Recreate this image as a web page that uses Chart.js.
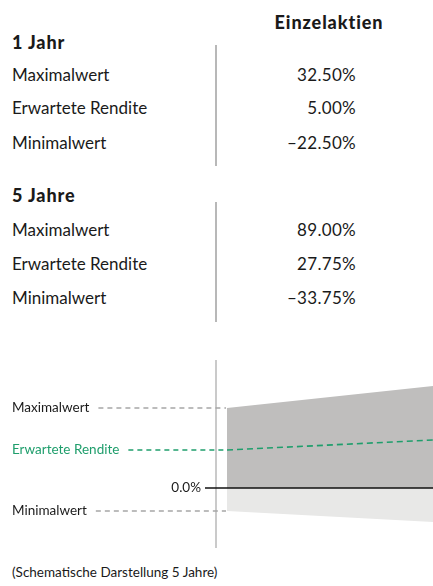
<!DOCTYPE html>
<html>
<head>
<meta charset="utf-8">
<script src="https://cdn.jsdelivr.net/npm/chart.js@4"></script>
<style>
  body { margin: 0; width: 433px; height: 586px; background: #fff; font-family: "Lato", sans-serif; color: #1a1a1a; overflow: hidden; }
  .t { position: absolute; height: 20px; line-height: 20px; white-space: nowrap; font-size: 17px; }
  .h { font-weight: 900; font-size: 18px; letter-spacing: 0.9px; }
  .v { text-align: right; width: 140px; left: 216px; letter-spacing: 0.3px; }
  .sep { position: absolute; left: 215px; width: 1.5px; background: #b8b8b8; }
  #wrap { position: absolute; left: 0; top: 360px; width: 433px; height: 200px; }
  .cap { position: absolute; left: 12px; top: 564px; font-size: 13.5px; white-space: nowrap; }
</style>
</head>
<body>
<div id="table"></div>
<div id="wrap"><canvas id="chart"></canvas></div>
<div class="cap">(Schematische Darstellung 5 Jahre)</div>
<script>
const column = 'Einzelaktien';
const rowLabels = ['Maximalwert', 'Erwartete Rendite', 'Minimalwert'];
const periods = ['1 Jahr', '5 Jahre'];
const values1y = ['32.50%', '5.00%', '\u201322.50%'];
const values5y = ['89.00%', '27.75%', '\u201333.75%'];

// schematic chart, relative heights
const years = [0, 5];
const schemaMax = [80, 102];
const schemaExp = [38, 48];
const schemaMin = [-23, -34];
const zeroLabel = '0.0%';

function addText(text, cls, top, left) {
  const d = document.createElement('div');
  d.className = 't ' + cls;
  d.textContent = text;
  d.style.top = (top - 10) + 'px';
  if (left !== undefined) d.style.left = left + 'px';
  document.getElementById('table').appendChild(d);
}
function addSep(top, bottom) {
  const d = document.createElement('div');
  d.className = 'sep';
  d.style.top = top + 'px';
  d.style.height = (bottom - top) + 'px';
  document.getElementById('table').appendChild(d);
}

const head = document.createElement('div');
head.className = 't h';
head.textContent = column;
head.style.top = '12px';
head.style.left = '229px';
head.style.width = '200px';
head.style.textAlign = 'center';
document.getElementById('table').appendChild(head);

const blocks = [
  { title: periods[0], vals: values1y, y: 42, rows: [75, 108, 143], sep: [45, 166] },
  { title: periods[1], vals: values5y, y: 195, rows: [230, 264, 298], sep: [202, 322] }
];
blocks.forEach(b => {
  addText(b.title, 'h', b.y, 12);
  rowLabels.forEach((l, i) => {
    addText(l, '', b.rows[i], 12);
    addText(b.vals[i], 'v', b.rows[i]);
  });
  addSep(b.sep[0], b.sep[1]);
});

const green = '#1f9e6c';

const sidePlugin = {
  id: 'side',
  beforeDatasetsDraw: (chart) => {
    const ctx = chart.ctx;
    ctx.save();
    // vertical divider
    ctx.strokeStyle = '#b8b8b8';
    ctx.lineWidth = 1.5;
    ctx.beginPath();
    ctx.moveTo(216, 0);
    ctx.lineTo(216, 188);
    ctx.stroke();
    ctx.restore();
  },
  afterDatasetsDraw: (chart) => {
    const ctx = chart.ctx;
    const y = chart.scales.y;
    const left = chart.chartArea.left;
    ctx.save();
    ctx.font = '13.5px Lato';
    ctx.textBaseline = 'middle';
    const items = [
      { text: rowLabels[0], v: schemaMax[0], color: '#1a1a1a', line: '#a6a6a6' },
      { text: rowLabels[1], v: schemaExp[0], color: green, line: green },
      { text: rowLabels[2], v: schemaMin[0], color: '#1a1a1a', line: '#a6a6a6' }
    ];
    items.forEach(it => {
      const py = y.getPixelForValue(it.v);
      ctx.fillStyle = it.color;
      ctx.textAlign = 'left';
      ctx.fillText(it.text, 12, py);
      const w = ctx.measureText(it.text).width;
      ctx.strokeStyle = it.line;
      ctx.lineWidth = 1.3;
      ctx.setLineDash([5, 4]);
      ctx.beginPath();
      ctx.moveTo(12 + w + 9, py);
      ctx.lineTo(left - 1, py);
      ctx.stroke();
    });
    // zero line
    const zy = y.getPixelForValue(0);
    ctx.setLineDash([]);
    ctx.strokeStyle = '#111';
    ctx.lineWidth = 1.5;
    ctx.beginPath();
    ctx.moveTo(205, zy);
    ctx.lineTo(chart.chartArea.right, zy);
    ctx.stroke();
    ctx.fillStyle = '#1a1a1a';
    ctx.textAlign = 'right';
    ctx.fillText(zeroLabel, 201, zy);
    ctx.restore();
  }
};

new Chart(document.getElementById('chart'), {
  type: 'line',
  data: {
    datasets: [
      {
        label: rowLabels[1],
        data: years.map((x, i) => ({ x: x, y: schemaExp[i] })),
        borderColor: green,
        borderWidth: 1.6,
        borderDash: [6, 4],
        pointRadius: 0,
        fill: false,
        order: 0
      },
      {
        label: rowLabels[0],
        data: years.map((x, i) => ({ x: x, y: schemaMax[i] })),
        borderWidth: 0,
        borderColor: 'rgba(0,0,0,0)',
        backgroundColor: '#bfbebd',
        pointRadius: 0,
        fill: 'origin',
        order: 1
      },
      {
        label: rowLabels[2],
        data: years.map((x, i) => ({ x: x, y: schemaMin[i] })),
        borderWidth: 0,
        borderColor: 'rgba(0,0,0,0)',
        backgroundColor: '#e8e8e7',
        pointRadius: 0,
        fill: 'origin',
        order: 2
      }
    ]
  },
  options: {
    responsive: true,
    maintainAspectRatio: false,
    animation: false,
    layout: { padding: { left: 227, right: 0, top: 0, bottom: 0 } },
    scales: {
      x: { type: 'linear', min: years[0], max: years[1], display: false },
      y: { min: -72, max: 128, display: false }
    },
    plugins: {
      legend: { display: false },
      tooltip: { enabled: false }
    }
  },
  plugins: [sidePlugin]
});
</script>
</body>
</html>
